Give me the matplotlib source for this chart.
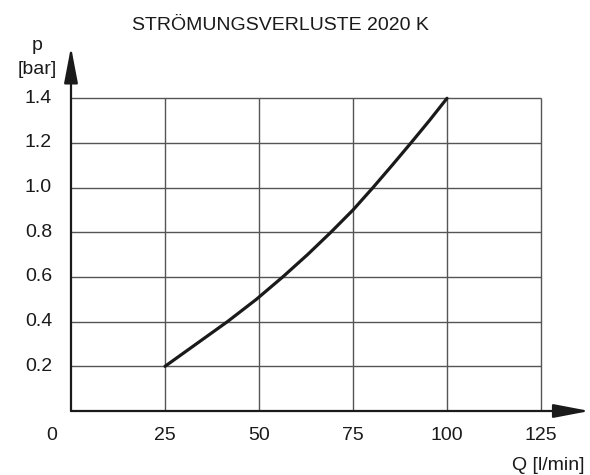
import matplotlib
matplotlib.use("Agg")
import matplotlib.pyplot as plt
from matplotlib.patches import ArrowStyle
import matplotlib.transforms as mtransforms

plt.rcParams['font.family'] = ['Liberation Sans', 'DejaVu Sans']

# Data
Q = [25, 33.3, 41.6, 49.3, 56.3, 62.9, 69.1, 75.0, 80.3, 85.4, 90.4, 95.3, 100]
p = [0.2, 0.3, 0.4, 0.5, 0.6, 0.7, 0.8, 0.9, 1.0, 1.1, 1.2, 1.3, 1.4]

x_ticks = [0, 25, 50, 75, 100, 125]
y_ticks = [0.2, 0.4, 0.6, 0.8, 1.0, 1.2, 1.4]
y_tick_labels = ["0.2", "0.4", "0.6", "0.8", "1.0", "1.2", "1.4"]

title = "STRÖMUNGSVERLUSTE 2020 K"
x_label = "Q [l/min]"
y_label_top = "p"
y_label_unit = "[bar]"

W, H = 590, 475
fig = plt.figure(figsize=(W / 100, H / 100), dpi=100)

x0_px, y0_px = 71, 411
xmax, ymax = 137.9, 1.63
px_per_x = (541 - 71) / 125
px_per_y = (411 - 98.3) / 1.4
ax_w = xmax * px_per_x
ax_h = ymax * px_per_y
ax = fig.add_axes([x0_px / W, (H - y0_px) / H, ax_w / W, ax_h / H])
ax.set_xlim(0, xmax)
ax.set_ylim(0, ymax)
ax.axis('off')

grid_c = '#555555'
ax.vlines(x_ticks[1:], 0, max(y_ticks), color=grid_c, lw=1.0, zorder=1)
ax.hlines(y_ticks, 0, max(x_ticks), color=grid_c, lw=1.0, zorder=1)

ax.plot(Q, p, color='#1a1a1a', lw=2.3, solid_capstyle='round',
        solid_joinstyle='round', zorder=3)

astyle = ArrowStyle('-|>', head_length=2.2, head_width=0.42)
for xy in [(xmax, 0), (0, ymax)]:
    ax.annotate('', xy=xy, xytext=(0, 0), xycoords='data',
                arrowprops=dict(arrowstyle=astyle, mutation_scale=10,
                                color='#1a1a1a', lw=1.6, shrinkA=0, shrinkB=0),
                annotation_clip=False, zorder=4)

fs = 14
# x tick labels
for xt in x_ticks:
    off = -19 if xt == 0 else 0
    tr = ax.transData + mtransforms.ScaledTranslation(off / 100, -24 / 100, fig.dpi_scale_trans)
    ax.text(xt, 0, str(xt), transform=tr, ha='center', va='center', fontsize=fs, color='#1a1a1a')
# y tick labels
for yt, lab in zip(y_ticks, y_tick_labels):
    tr = ax.transData + mtransforms.ScaledTranslation(-19 / 100, 0, fig.dpi_scale_trans)
    ax.text(0, yt, lab, transform=tr, ha='right', va='center', fontsize=fs, color='#1a1a1a')

fig.text(37 / W, 1 - 46 / H, y_label_top, ha='center', va='center', fontsize=fs, color='#1a1a1a')
fig.text(37 / W, 1 - 69 / H, y_label_unit, ha='center', va='center', fontsize=fs, color='#1a1a1a')
fig.text(584 / W, 1 - 465 / H, x_label, ha='right', va='center', fontsize=fs, color='#1a1a1a')
fig.text(280 / W, 1 - 25 / H, title, ha='center', va='center', fontsize=fs, color='#1a1a1a')

fig.savefig('out.png', dpi=100, facecolor='white')
